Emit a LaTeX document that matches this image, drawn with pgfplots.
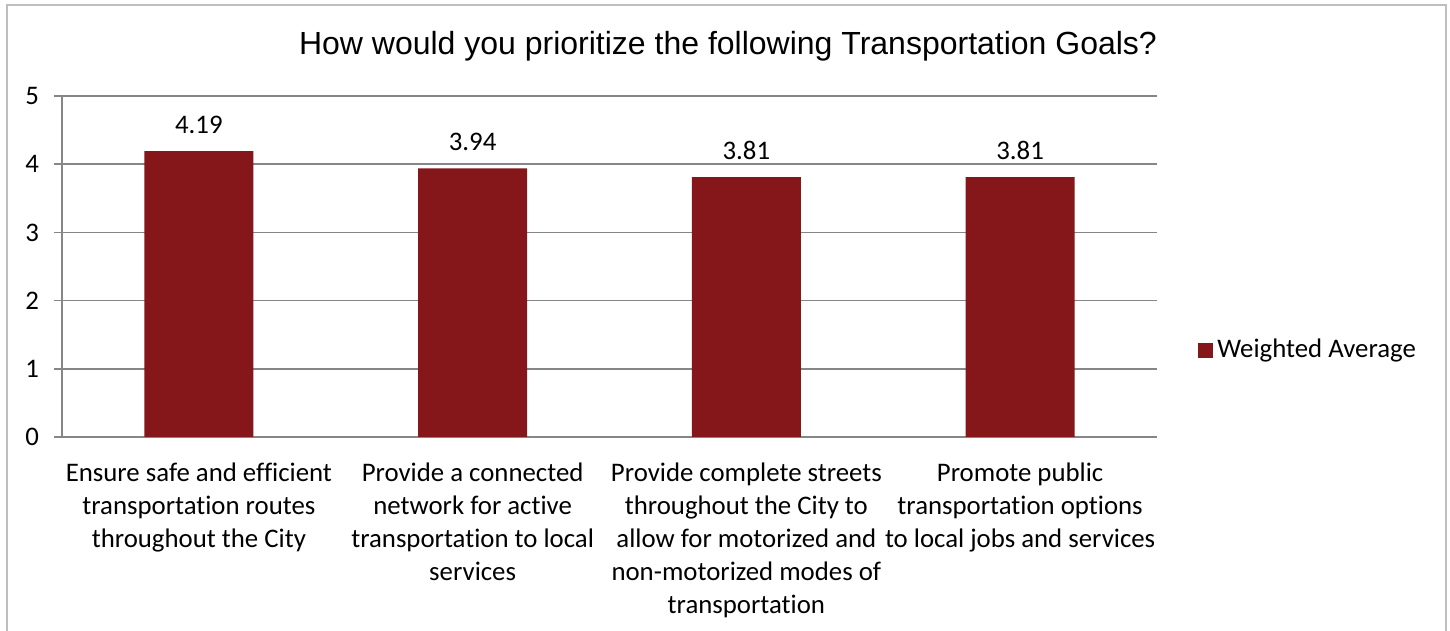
\documentclass[border=0pt]{standalone}
\usepackage{fontspec}
\setmainfont{Carlito}[Ligatures=NoCommon]
\newfontfamily\titlefont{Liberation Sans}
\usepackage{pgfplots}
\pgfplotsset{compat=1.18}
\definecolor{barred}{RGB}{133,22,26}
\definecolor{gridgray}{RGB}{134,134,134}
\definecolor{framegray}{RGB}{190,190,190}
\begin{document}
\begin{tikzpicture}
\useasboundingbox (0,0) rectangle (725bp,315.5bp);
\draw[framegray, line width=1bp] (3.5bp,0) -- (3.5bp,313bp) -- (723bp,313bp) -- (723bp,0);
\node[anchor=base, font=\titlefont\fontsize{16bp}{18bp}\selectfont] at (364bp,288bp) {How would you prioritize the following Transportation Goals?};
\begin{axis}[
  at={(31bp,97bp)}, anchor=south west,
  width=547.5bp, height=170.5bp, scale only axis,
  ybar, bar width=54.5bp,
  xmin=-0.5, xmax=3.5, ymin=0, ymax=5,
  ytick={0,1,2,3,4,5},
  xtick={0,1,2,3},
  xticklabels={{Ensure safe and efficient\\transportation routes\\throughout the City},
               {Provide a connected\\network for active\\transportation to local\\services},
               {Provide complete streets\\throughout the City to\\allow for motorized and\\non-motorized modes of\\transportation},
               {Promote public\\transportation options\\to local jobs and services}},
  x tick label style={align=center, anchor=north, yshift=-5.5bp},
  xtick style={draw=none},
  extra x ticks={-0.5,0.5,1.5,2.5,3.5},
  extra x tick labels={},
  extra x tick style={tick style={gridgray, line width=0.75bp, draw=gridgray}, major tick length=4bp, grid=none},
  tick align=outside,
  major tick length=4bp,
  ytick style={gridgray, line width=0.75bp},
  ymajorgrids, grid style={gridgray, line width=0.75bp},
  axis x line*=bottom, axis y line*=left,
  axis line style={gridgray, line width=0.75bp, -},
  ticklabel style={font=\fontsize{13.4bp}{16.5bp}\selectfont},
  /pgf/number format/assume math mode=true,
  yticklabel style={xshift=-4bp},
  nodes near coords,
  nodes near coords style={font=\fontsize{13.4bp}{16.5bp}\selectfont, anchor=base, yshift=9bp, /pgf/number format/fixed, /pgf/number format/precision=2, /pgf/number format/fixed zerofill},
  legend style={at={(1.0374,0.2551)}, anchor=west, draw=none, fill=none, inner sep=0pt, font=\fontsize{13.4bp}{16.5bp}\selectfont},
  legend image code/.code={\fill[barred] (0bp,-3.75bp) rectangle (7.5bp,3.75bp);},
]
\addplot[fill=barred, draw=none] coordinates {(0,4.19) (1,3.94) (2,3.81) (3,3.81)};
\addlegendentry{Weighted Average}
\end{axis}
\end{tikzpicture}
\end{document}
